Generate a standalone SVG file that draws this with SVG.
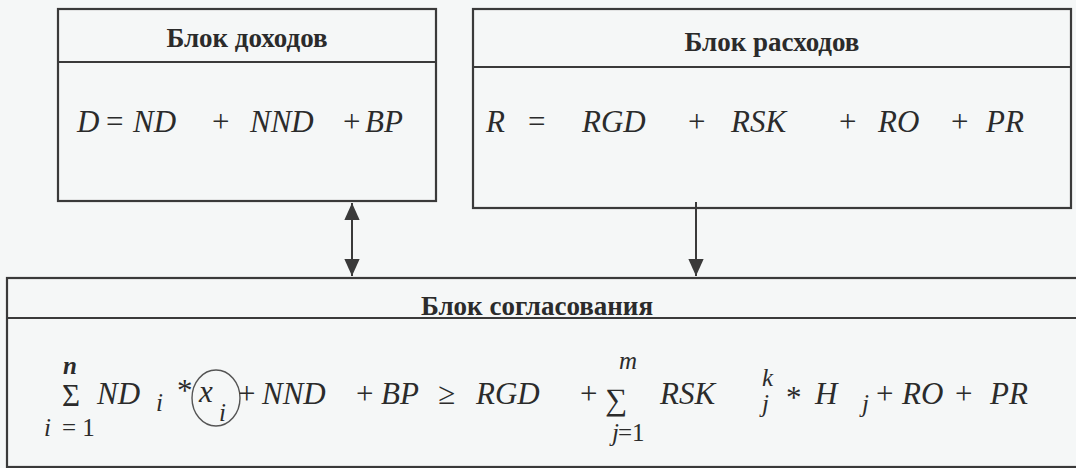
<svg xmlns="http://www.w3.org/2000/svg" width="1076" height="468" viewBox="0 0 1076 468">
<defs>
<style>
.box{fill:none;stroke:#3a3a3a;stroke-width:2.2}
.ln{stroke:#3a3a3a;stroke-width:2}
.ttl{font-family:"Liberation Serif","Times New Roman",serif;font-weight:bold;font-size:27px;fill:#2b2b2b;text-anchor:middle}
.f{font-family:"Liberation Serif","Times New Roman",serif;font-style:italic;font-size:31px;fill:#2b2b2b}
.fu{font-family:"Liberation Serif","Times New Roman",serif;font-size:31px;fill:#2b2b2b}
.s{font-family:"Liberation Serif","Times New Roman",serif;font-style:italic;font-size:25px;fill:#2b2b2b}
.su{font-family:"Liberation Serif","Times New Roman",serif;font-size:25px;fill:#2b2b2b}
</style>
<marker id="ah2" viewBox="0 0 10 10" refX="10" refY="5" markerWidth="17" markerHeight="17" markerUnits="userSpaceOnUse" orient="auto-start-reverse">
<path d="M0,0.5 L10,5 L0,9.5 Z" fill="#3a3a3a"/>
</marker>
</defs>
<rect width="1076" height="468" fill="#f5f7f7"/>

<g id="income">
<rect class="box" x="58" y="9" width="378" height="192"/>
<line class="ln" x1="58" y1="62" x2="436" y2="62"/>
<text class="ttl" x="247" y="47">Блок  доходов</text>
<text class="f" x="77" y="132">D</text>
<text class="fu" x="106" y="132">=</text>
<text class="f" x="133" y="132">ND</text>
<text class="fu" x="212" y="132">+</text>
<text class="f" x="250" y="132">NND</text>
<text class="fu" x="343" y="132">+</text>
<text class="f" x="365" y="132">BP</text>
</g>

<g id="expenses">
<rect class="box" x="473" y="9" width="598" height="199"/>
<line class="ln" x1="473" y1="67" x2="1071" y2="67"/>
<text class="ttl" x="772" y="51">Блок  расходов</text>
<text class="f" x="486" y="132">R</text>
<text class="fu" x="528" y="132">=</text>
<text class="f" x="582" y="132">RGD</text>
<text class="fu" x="688" y="132">+</text>
<text class="f" x="731" y="132">RSK</text>
<text class="fu" x="839" y="132">+</text>
<text class="f" x="878" y="132">RO</text>
<text class="fu" x="951" y="132">+</text>
<text class="f" x="986" y="132">PR</text>
</g>

<g id="balance">
<rect class="box" x="7" y="278" width="1090" height="189"/>
<line class="ln" x1="7" y1="318" x2="1076" y2="318"/>
<text class="ttl" x="537" y="315">Блок  согласования</text>
<text class="s" x="63" y="374" font-weight="bold" font-size="23">n</text>
<text class="fu" x="62" y="406" font-size="30">Σ</text>
<text class="s" x="44" y="436">i</text>
<text class="su" x="62" y="436">= 1</text>
<text class="f" x="97" y="404">ND</text>
<text class="s" x="156" y="411">i</text>
<text class="fu" x="177" y="401" font-size="22">*</text>
<ellipse cx="216" cy="398" rx="24" ry="28" fill="none" stroke="#555" stroke-width="1.4"/>
<text class="f" x="199" y="402">x</text>
<text class="s" x="219" y="421">i</text>
<text class="fu" x="238" y="404">+</text>
<text class="f" x="262" y="404">NND</text>
<text class="fu" x="356" y="404">+</text>
<text class="f" x="381" y="404">BP</text>
<text class="fu" x="438" y="404">≥</text>
<text class="f" x="476" y="404">RGD</text>
<text class="fu" x="580" y="404">+</text>
<text class="fu" x="605" y="410" font-size="40">∑</text>
<text class="s" x="619" y="369" font-size="16">m</text>
<text class="s" x="612" y="441" font-size="16">j</text>
<text class="su" x="618" y="441" font-size="16">=1</text>
<text class="f" x="660" y="404">RSK</text>
<text class="s" x="762" y="386" font-size="17">k</text>
<text class="s" x="762" y="412" font-size="17">j</text>
<text class="fu" x="786" y="408" font-size="26">*</text>
<text class="f" x="815" y="404">H</text>
<text class="s" x="862" y="412" font-size="17">j</text>
<text class="fu" x="876" y="404">+</text>
<text class="f" x="902" y="404">RO</text>
<text class="fu" x="955" y="404">+</text>
<text class="f" x="990" y="404">PR</text>
</g>

<g id="connectors">
<line class="ln" x1="352" y1="203" x2="352" y2="276" marker-start="url(#ah2)" marker-end="url(#ah2)"/>
<line class="ln" x1="696" y1="202" x2="696" y2="276" marker-end="url(#ah2)"/>
</g>
</svg>
